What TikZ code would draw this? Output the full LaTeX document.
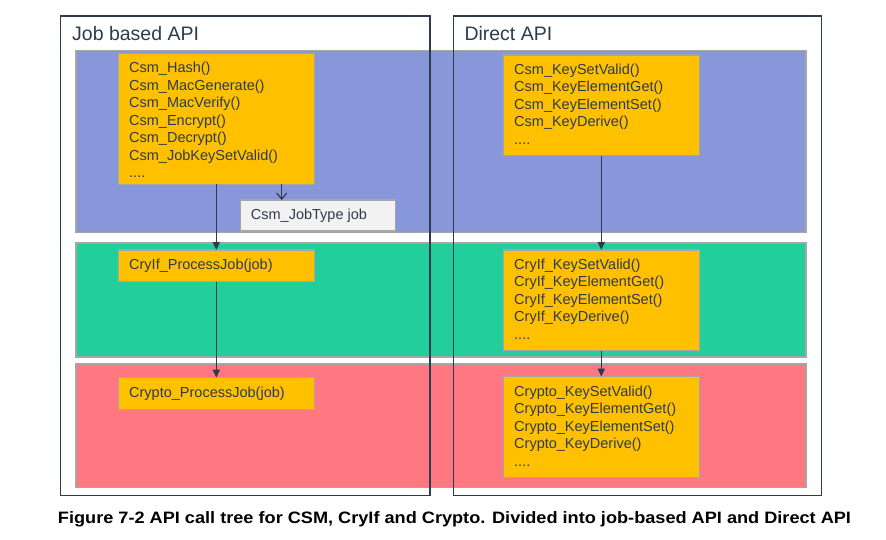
\documentclass[tikz,border=0pt]{standalone}
\usepackage{fontspec}
\setmainfont{Liberation Sans}
\usetikzlibrary{arrows.meta,calc}
\definecolor{bandblue}{HTML}{8896DA}
\definecolor{bandgreen}{HTML}{22CF9A}
\definecolor{bandred}{HTML}{FF7780}
\definecolor{orangebox}{HTML}{FFC000}
\definecolor{jobgray}{HTML}{F2F2F2}
\definecolor{edgegray}{HTML}{A6A6A6}
\definecolor{navy}{HTML}{2E3B4E}
\begin{document}
\begin{tikzpicture}[x=1pt,y=-1pt,
  band/.style={draw=edgegray, line width=1.6pt, inner sep=0pt, outer sep=0pt, anchor=north west, minimum width=730.3pt},
  frame/.style={draw=navy, line width=1.3pt, inner sep=0pt, outer sep=0pt, anchor=north west},
  obox/.style={draw=edgegray, fill=orangebox, line width=1.2pt, inner sep=0pt, outer sep=0pt, anchor=north west, minimum width=196pt},
  gbox/.style={draw=edgegray, fill=jobgray, line width=1.2pt, inner sep=0pt, outer sep=0pt, anchor=north west},
  txt/.style={anchor=north west, inner sep=0pt, align=left, font=\fontsize{14.5}{17.5}\selectfont, text=navy},
  title/.style={anchor=base west, inner sep=0pt, font=\fontsize{19.5}{23}\selectfont, text=navy},
  arr/.style={draw=navy, line width=1.4pt, -{Triangle[length=8pt,width=7pt]}},
  oarr/.style={draw=navy, line width=1.2pt, -{Straight Barb[length=6pt,width=10pt]}}
]
\useasboundingbox (0,0) rectangle (886,540);
\fill[white] (0,0) rectangle (886,540);

% bands
\node[band, fill=bandblue, minimum height=182pt] (bblue) at (75.7,50.7) {};
\node[band, fill=bandgreen, minimum height=114pt] (bgreen) at (75.7,242.7) {};
\node[band, fill=bandred, minimum height=123.3pt] (bred) at (75.7,364) {};

% frames
\node[frame, minimum width=369.5pt, minimum height=479.5pt] (fjob) at (60.5,16) {};
\node[frame, minimum width=368.4pt, minimum height=479.5pt] (fdir) at (453.3,16) {};
\node[title] (tjob) at (72,40.7) {Job based API};
\node[title] (tdir) at (464.3,41) {Direct API};

% job based boxes
\node[obox, minimum height=131pt] (A) at (118.3,53.3) {};
\node[txt] (At) at ($(A.north west)+(10.7,8.6)$) {Csm\_Hash()\\Csm\_MacGenerate()\\Csm\_MacVerify()\\Csm\_Encrypt()\\Csm\_Decrypt()\\Csm\_JobKeySetValid()\\....};
\node[gbox, minimum width=155.4pt, minimum height=31pt] (J) at (240.3,200) {};
\node[txt] (Jt) at ($(J.north west)+(10.4,8.6)$) {Csm\_JobType job};
\node[obox, minimum height=31.7pt] (B) at (118.3,250) {};
\node[txt] (Bt) at ($(B.north west)+(10.7,8.6)$) {CryIf\_ProcessJob(job)};
\node[obox, minimum height=31.6pt] (C) at (118.3,377.7) {};
\node[txt] (Ct) at ($(C.north west)+(10.7,8.6)$) {Crypto\_ProcessJob(job)};

% direct boxes
\node[obox, minimum height=100.7pt] (D) at (503.3,55) {};
\node[txt] (Dt) at ($(D.north west)+(10.7,8.6)$) {Csm\_KeySetValid()\\Csm\_KeyElementGet()\\Csm\_KeyElementSet()\\Csm\_KeyDerive()\\....};
\node[obox, minimum height=100.7pt] (E) at (503.3,250) {};
\node[txt] (Et) at ($(E.north west)+(10.7,8.6)$) {CryIf\_KeySetValid()\\CryIf\_KeyElementGet()\\CryIf\_KeyElementSet()\\CryIf\_KeyDerive()\\....};
\node[obox, minimum height=100.6pt] (F) at (503.3,376.7) {};
\node[txt] (Ft) at ($(F.north west)+(10.7,8.6)$) {Crypto\_KeySetValid()\\Crypto\_KeyElementGet()\\Crypto\_KeyElementSet()\\Crypto\_KeyDerive()\\....};

% arrows
\coordinate (jx) at (281.7,0);
\draw[oarr] (A.south -| jx) -- (J.north -| jx);
\draw[arr] (A.south) -- (B.north);
\draw[arr] (B.south) -- (C.north);
\draw[arr] (D.south) -- (E.north);
\draw[arr] (E.south) -- (F.north);

% caption
\node[anchor=base, inner sep=0pt, font=\fontsize{16.5}{18}\selectfont\bfseries] (cap) at (454.5,523.5)
  {\resizebox{793pt}{\height}{Figure 7-2 API call tree for CSM, CryIf and Crypto. Divided into job-based API and Direct API}};
\end{tikzpicture}
\end{document}
